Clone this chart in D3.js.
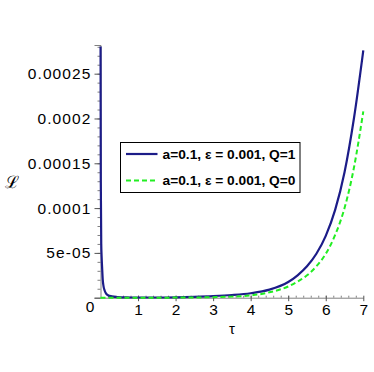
<!DOCTYPE html>
<html>
<head>
<meta charset="utf-8">
<script src="https://cdn.jsdelivr.net/npm/d3@7"></script>
<style>
  body { margin: 0; background: #fff; }
  svg text { font-family: "Liberation Sans", Arial, sans-serif; }
</style>
</head>
<body>
<script>
'use strict';

// curve data
var tauQ1 = [0, 0.008, 0.02, 0.03, 0.045, 0.06, 0.08, 0.11, 0.15, 0.2, 0.3, 0.45, 0.7, 1, 1.5, 2, 2.5, 3, 3.5, 4, 4.5, 5, 5.25, 5.5, 5.75, 6, 6.25, 6.5, 6.75, 7];
var lQ1 = [3.2e-4, 1.3e-4, 6e-5, 4.6e-5, 3.2e-5, 2e-5, 1.3e-5, 8e-6, 4.5e-6, 2.8e-6, 1.5e-6, 7e-7, 3e-7, 2e-7, 2e-7, 4e-7, 1e-6, 1.8e-6, 3e-6, 5e-6, 9e-6, 1.75e-5, 2.5e-5, 3.5e-5, 4.9e-5, 6.9e-5, 9.8e-5, 1.4e-4, 2.0e-4, 2.76e-4];

var tauQ0 = [0, 1, 2, 3, 3.5, 4, 4.5, 5, 5.25, 5.5, 5.75, 6, 6.25, 6.5, 6.75, 7];
var lQ0 = [0, 1e-8, 1e-7, 6e-7, 1.2e-6, 2.5e-6, 6e-6, 1.25e-5, 1.8e-5, 2.5e-5, 3.5e-5, 4.9e-5, 7e-5, 1.0e-4, 1.45e-4, 2.08e-4];

var xTicks = [1, 2, 3, 4, 5, 6, 7];
var yTicks = [0, 5e-5, 1e-4, 1.5e-4, 2e-4, 2.5e-4];
var yTickLabels = ['0', '5e-05', '0.0001', '0.00015', '0.0002', '0.00025'];
var legendLabels = ['a=0.1, \u03b5 = 0.001, Q=1', 'a=0.1, \u03b5 = 0.001, Q=0'];

var width = 374, height = 372;
var x0 = 100.5, x1 = 363.3, yBot = 297.7, yTop = 45;

var svg = d3.select('body').append('svg')
    .attr('width', width)
    .attr('height', height);

var x = d3.scaleLinear().domain([0, 7]).range([x0, x1]);
var y = d3.scaleLinear().domain([0, 2.82e-4]).range([yBot, yTop]);

svg.append('clipPath').attr('id', 'plotClip')
  .append('rect')
    .attr('x', x0 - 3).attr('y', yTop + 1.5)
    .attr('width', x1 - x0 + 5).attr('height', yBot - yTop + 2);

// axes
var axisColor = '#808080';

var yMinor = svg.append('g')
    .attr('transform', 'translate(' + x0 + ',0)')
    .call(d3.axisLeft(y).tickValues(d3.range(1, 29).map(d => d * 1e-5)).tickSize(3).tickFormat(''));
yMinor.select('.domain').remove();
yMinor.selectAll('line').attr('stroke', axisColor);

var yAxis = svg.append('g')
    .attr('transform', 'translate(' + x0 + ',0)')
    .call(d3.axisLeft(y).tickValues(yTicks).tickSize(6).tickPadding(3)
      .tickFormat((d, i) => yTickLabels[i]));
yAxis.select('.domain').attr('stroke', axisColor);
yAxis.selectAll('line').attr('stroke', '#555');
yAxis.selectAll('text')
    .attr('fill', '#000')
    .style('font-size', '15.5px')
    .style('letter-spacing', '1.1px');
yAxis.selectAll('.tick').filter(d => d === 0).select('text')
    .attr('x', -5).attr('dy', '0.9em');

var xMinor = svg.append('g')
    .attr('transform', 'translate(0,' + yBot + ')')
    .call(d3.axisTop(x).tickValues(d3.range(1, 35).map(d => d * 0.2)).tickSize(2).tickFormat(''));
xMinor.select('.domain').remove();
xMinor.selectAll('line').attr('stroke', axisColor);

var xAxis = svg.append('g')
    .attr('transform', 'translate(0,' + yBot + ')')
    .call(d3.axisBottom(x).tickValues(xTicks).tickSize(0).tickPadding(6).tickFormat(d3.format('d')));
xAxis.select('.domain').attr('stroke', axisColor);
xAxis.selectAll('.tick line').attr('y1', -2).attr('y2', 3.5).attr('stroke', '#555');
xAxis.selectAll('text')
    .attr('fill', '#000')
    .style('font-size', '15.5px');

// axis titles
svg.append('text')
    .attr('x', x(3.5)).attr('y', 334)
    .attr('text-anchor', 'middle')
    .style('font-size', '15px')
    .text('\u03c4');

svg.append('text')
    .attr('x', 12).attr('y', 188)
    .attr('text-anchor', 'middle')
    .style('font-family', '"DejaVu Serif", serif')
    .style('font-size', '17px')
    .text('\u2112');

// curves
var line = d3.line()
    .x(d => x(d[0]))
    .y(d => y(d[1]))
    .curve(d3.curveMonotoneX);

var plot = svg.append('g').attr('clip-path', 'url(#plotClip)');

plot.append('path')
    .datum(d3.zip(tauQ1, lQ1))
    .attr('fill', 'none')
    .attr('stroke', '#1c1c88')
    .attr('stroke-width', 2.2)
    .attr('d', line);

plot.append('path')
    .datum(d3.zip(tauQ0, lQ0))
    .attr('fill', 'none')
    .attr('stroke', '#22ee22')
    .attr('stroke-width', 2)
    .attr('stroke-dasharray', '5,3')
    .attr('d', line);

// legend
var legend = svg.append('g').attr('transform', 'translate(120.5,142.5)');
legend.append('rect')
    .attr('width', 179.5).attr('height', 50)
    .attr('fill', '#fff')
    .attr('stroke', '#000')
    .attr('stroke-width', 1);

var legendStyles = [
  { color: '#1c1c88', dash: null, w: 2.2 },
  { color: '#22ee22', dash: '5,3', w: 2 }
];

legend.selectAll('g.entry')
    .data(legendLabels)
    .enter()
    .append('g')
    .attr('class', 'entry')
    .attr('transform', (d, i) => 'translate(0,' + (11.5 + i * 26.5) + ')')
    .each(function(d, i) {
      var e = d3.select(this);
      e.append('line')
        .attr('x1', 5.5).attr('x2', 37)
        .attr('stroke', legendStyles[i].color)
        .attr('stroke-width', legendStyles[i].w)
        .attr('stroke-dasharray', legendStyles[i].dash);
      e.append('text')
        .attr('x', 42).attr('y', 4.5)
        .attr('textLength', 133)
        .attr('lengthAdjust', 'spacingAndGlyphs')
        .style('font-size', '12.5px')
        .style('font-weight', 'bold')
        .text(d);
    });
</script>
</body>
</html>
